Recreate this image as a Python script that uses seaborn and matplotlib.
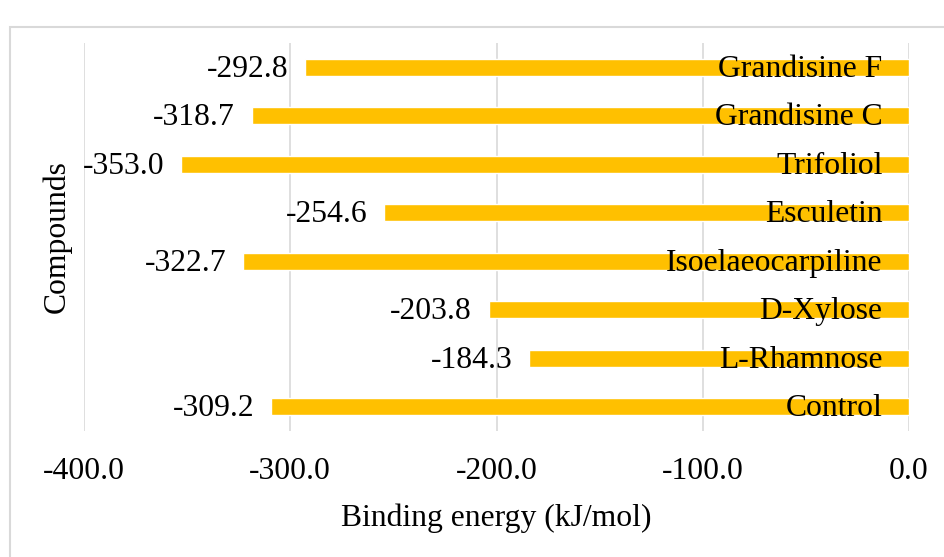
import matplotlib
matplotlib.use("Agg")
import matplotlib.pyplot as plt
import matplotlib.patches as mpatches
import seaborn as sns
import pandas as pd
from matplotlib.ticker import FormatStrFormatter

compounds = ["Grandisine F", "Grandisine C", "Trifoliol", "Esculetin",
             "Isoelaeocarpiline", "D-Xylose", "L-Rhamnose", "Control"]
binding_energy = [-292.8, -318.7, -353.0, -254.6, -322.7, -203.8, -184.3, -309.2]
x_ticks = [-400.0, -300.0, -200.0, -100.0, 0.0]

df = pd.DataFrame({"Compound": compounds, "Energy": binding_energy})

sns.set_theme(style="white")
plt.rcParams["font.family"] = ["Liberation Serif", "DejaVu Serif"]
plt.rcParams["text.color"] = "black"
plt.rcParams["axes.labelcolor"] = "black"
FS = 22.8

fig = plt.figure(figsize=(9.45, 5.57), dpi=100)
ax = fig.add_axes([84 / 945, 1 - 431 / 557, (909 - 84) / 945, (431 - 43) / 557])

sns.barplot(data=df, x="Energy", y="Compound", orient="h", color="#FFC000",
            saturation=1, width=0.35, ax=ax)

ax.set_xlim(-400, 0)
ax.set_xticks(x_ticks)
ax.xaxis.set_major_formatter(FormatStrFormatter("%.1f"))
ax.grid(axis="x", color="#D9D9D9", linewidth=1.2)
ax.set_axisbelow(True)
for s in ax.spines.values():
    s.set_visible(False)
ax.tick_params(axis="x", length=0, labelsize=FS, pad=19, colors="black")
ax.tick_params(axis="y", length=0)
ax.set_yticklabels([])
ax.set_xlabel("Binding energy (kJ/mol)", fontsize=FS, labelpad=12, color="black")
ax.set_ylabel("Compounds", fontsize=FS, labelpad=5, color="black")

for i, (name, val) in enumerate(zip(compounds, binding_energy)):
    ax.annotate(f"{val:.1f}", xy=(val, i), xytext=(-12, -1.5), textcoords="offset points",
                ha="right", va="center", fontsize=FS, color="black")
    ax.annotate(name, xy=(0, i), xytext=(-19, -1.5), textcoords="offset points",
                ha="right", va="center", fontsize=FS, color="black")

# light chart frame
fig.patches.append(mpatches.Rectangle((10 / 945, -0.05), 1.1, 1 - 27 / 557 + 0.05,
                                      transform=fig.transFigure, fill=False,
                                      edgecolor="#D9D9D9", linewidth=1.5))

fig.savefig("out.png", dpi=100, facecolor="white")
